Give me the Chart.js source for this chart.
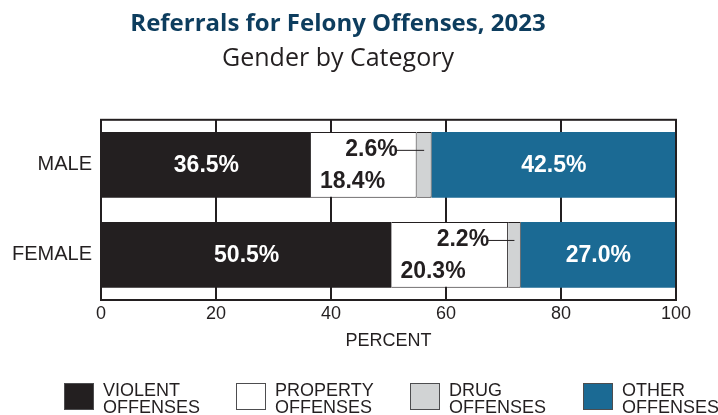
<!DOCTYPE html>
<html>
<head>
<meta charset="utf-8">
<script src="https://cdn.jsdelivr.net/npm/chart.js@4"></script>
<style>
  body { margin: 0; background: #fff; }
  #wrap { width: 718px; height: 415px; position: relative; }
</style>
</head>
<body>
<div id="wrap"><canvas id="myChart" width="718" height="415"></canvas></div>
<script>
var categories = ["MALE", "FEMALE"];
var seriesNames = [["VIOLENT", "OFFENSES"], ["PROPERTY", "OFFENSES"], ["DRUG", "OFFENSES"], ["OTHER", "OFFENSES"]];
var violent = [36.5, 50.5];
var property = [18.4, 20.3];
var drug = [2.6, 2.2];
var other = [42.5, 27.0];
var xTicks = [0, 20, 40, 60, 80, 100];

var colors = ['#231f20', '#ffffff', '#d1d3d4', '#1b6a94'];
var arial = '"Liberation Sans", Arial, sans-serif';

// percent labels inside / next to the bar segments
var barLabels = {
    id: 'barLabels',
    afterDatasetsDraw: function(chart) {
        var c = chart.ctx;
        c.save();
        c.font = 'bold 23px ' + arial;
        c.textBaseline = 'middle';
        chart.data.datasets.forEach(function(ds, di) {
            var meta = chart.getDatasetMeta(di);
            meta.data.forEach(function(bar, i) {
                var txt = ds.data[i].toFixed(1) + '%';
                var left = Math.min(bar.x, bar.base);
                var right = Math.max(bar.x, bar.base);
                if (di === 0 || di === 3) {
                    c.fillStyle = '#ffffff';
                    c.textAlign = 'center';
                    c.fillText(txt, (left + right) / 2, bar.y + 1);
                } else if (di === 1) {
                    c.fillStyle = '#231f20';
                    c.textAlign = 'left';
                    c.fillText(txt, left + 9, bar.y + 17);
                } else if (di === 2) {
                    c.fillStyle = '#231f20';
                    c.textAlign = 'right';
                    var tx = left - 19, ty = bar.y - 15;
                    c.fillText(txt, tx, ty);
                    c.strokeStyle = '#231f20';
                    c.lineWidth = 1;
                    c.beginPath();
                    c.moveTo(tx - 1, ty + 0.5);
                    c.lineTo((left + right) / 2, ty + 0.5);
                    c.stroke();
                }
            });
        });
        c.restore();
    }
};

// two-line legend along the bottom
var bottomLegend = {
    id: 'bottomLegend',
    afterDraw: function(chart) {
        var c = chart.ctx;
        var xs = [64, 236, 410, 583];
        var top = 383;
        c.save();
        c.font = '18px ' + arial;
        c.textBaseline = 'middle';
        c.textAlign = 'left';
        chart.data.datasets.forEach(function(ds, di) {
            var x = xs[di];
            c.fillStyle = ds.backgroundColor;
            c.fillRect(x, top, 30, 27);
            c.strokeStyle = '#4d4d4f';
            c.lineWidth = 1;
            c.strokeRect(x + 0.5, top + 0.5, 29, 26);
            c.fillStyle = '#231f20';
            c.fillText(seriesNames[di][0], x + 39, top + 8);
            c.fillText(seriesNames[di][1], x + 39, top + 25.5);
        });
        c.restore();
    }
};

var ctx = document.getElementById("myChart").getContext('2d');
var myChart = new Chart(ctx, {
    type: 'bar',
    data: {
        labels: categories,
        datasets: [
            { label: 'VIOLENT OFFENSES', data: violent, backgroundColor: colors[0], borderColor: '#231f20', borderWidth: 0 },
            { label: 'PROPERTY OFFENSES', data: property, backgroundColor: colors[1], borderColor: '#231f20', borderWidth: 1 },
            { label: 'DRUG OFFENSES', data: drug, backgroundColor: colors[2], borderColor: '#231f20', borderWidth: 1 },
            { label: 'OTHER OFFENSES', data: other, backgroundColor: colors[3], borderColor: '#231f20', borderWidth: 0 }
        ]
    },
    options: {
        indexAxis: 'y',
        responsive: false,
        animation: false,
        categoryPercentage: 1,
        barPercentage: 0.73,
        layout: { padding: { left: 0, right: 42, top: 0, bottom: 60 } },
        plugins: {
            legend: { display: false },
            tooltip: { enabled: false },
            title: {
                display: true,
                text: 'Referrals for Felony Offenses, 2023',
                color: '#0d3d5e',
                font: { family: '"Open Sans", sans-serif', size: 24, weight: 'bold' },
                padding: { top: 10, bottom: 5 }
            },
            subtitle: {
                display: true,
                text: 'Gender by Category',
                color: '#231f20',
                font: { family: '"Open Sans", sans-serif', size: 25 },
                padding: { top: 0, bottom: 46 }
            }
        },
        scales: {
            x: {
                stacked: true,
                min: 0,
                max: 100,
                afterBuildTicks: function(scale) {
                    scale.ticks = xTicks.map(function(v) { return { value: v }; });
                },
                afterFit: function(scale) { scale.height = 55; },
                grid: { color: '#231f20', lineWidth: 2, drawTicks: false },
                border: { color: '#231f20', width: 2 },
                ticks: {
                    color: '#231f20',
                    padding: 3,
                    maxRotation: 0,
                    font: { family: arial, size: 18 }
                },
                title: {
                    display: true,
                    text: 'PERCENT',
                    color: '#231f20',
                    padding: { top: 4, bottom: 3 },
                    font: { family: arial, size: 18 }
                }
            },
            y: {
                stacked: true,
                afterFit: function(scale) { scale.width = 101; },
                grid: { display: false, drawTicks: false },
                border: { color: '#231f20', width: 2 },
                ticks: {
                    color: '#231f20',
                    padding: 9,
                    font: { family: arial, size: 20 }
                }
            }
        }
    },
    plugins: [barLabels, bottomLegend, {
        id: 'frame',
        afterDraw: function(chart) {
            var a = chart.chartArea, c = chart.ctx;
            c.save();
            c.strokeStyle = '#231f20';
            c.lineWidth = 2;
            c.strokeRect(a.left, a.top, a.right - a.left, a.bottom - a.top);
            c.restore();
        }
    }]
});
</script>
</body>
</html>
